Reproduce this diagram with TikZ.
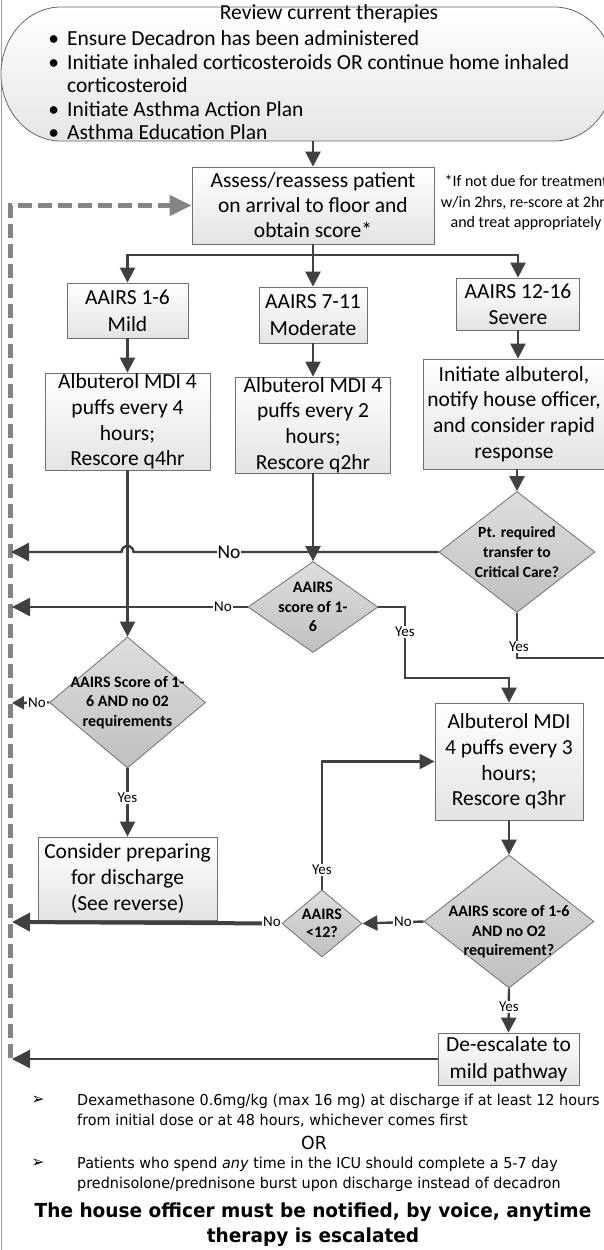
\documentclass[tikz,border=0pt]{standalone}
\usepackage{fontspec}
\setmainfont{Carlito}
\newfontfamily\tah[FakeStretch=0.96]{DejaVu Sans}
\usetikzlibrary{arrows.meta,shapes.geometric}
\definecolor{lineC}{HTML}{404040}
\definecolor{boxB}{HTML}{707070}
\definecolor{dashC}{HTML}{858585}
\begin{document}
\begin{tikzpicture}[x=1pt,y=-1pt,
  box/.style={draw=boxB, line width=0.8pt, top color=white, bottom color=black!11, align=center, inner sep=0pt, font=\fontsize{21.5}{25.7}\selectfont},
  dia/.style={diamond, draw=boxB, line width=0.8pt, top color=black!13, bottom color=black!25, inner sep=0pt},
  dtext/.style={font=\bfseries\fontsize{16}{19.5}\selectfont, align=center, inner sep=0pt},
  conn/.style={draw=lineC, line width=2.4pt},
  arr/.style={conn, -{Triangle[length=15pt,width=15pt]}},
  arrS/.style={conn, -{Triangle[length=12pt,width=13pt]}},
  arrL/.style={conn, -{Triangle[length=18pt,width=18pt]}},
  lab/.style={fill=white, inner sep=1pt, font=\fontsize{15}{16}\selectfont},
  btxt/.style={anchor=base west, inner sep=0pt, font=\tah\fontsize{15}{17}\selectfont},
]
\useasboundingbox (0,0) rectangle (603,1250);
\fill[white] (0,0) rectangle (603,1250);
\draw[black!40, line width=1pt] (1,0) -- (1,1250);

% top rounded shape
\path[draw=black!60, line width=0.8pt, top color=white, bottom color=black!10]
  (61,7) -- (554,7) arc[start angle=90, end angle=-90, x radius=60pt, y radius=67pt]
  -- (61,141) arc[start angle=270, end angle=90, x radius=60pt, y radius=67pt] -- cycle;
\coordinate (reviewS) at (313,141);
\node[inner sep=0pt, font=\fontsize{21.5}{22}\selectfont] (title) at (329,14) {Review current therapies};
\begin{scope}[every node/.style={anchor=base west, inner sep=0pt, font=\fontsize{21.5}{22}\selectfont}]
\node (b1) at (67,45) {\llap{\textbullet\hspace{8pt}}Ensure Decadron has been administered};
\node (b2) at (67,69) {\llap{\textbullet\hspace{8pt}}Initiate inhaled corticosteroids OR continue home inhaled};
\node (b3) at (67,92) {corticosteroid};
\node (b4) at (67,116) {\llap{\textbullet\hspace{8pt}}Initiate Asthma Action Plan};
\node (b5) at (67,139) {\llap{\textbullet\hspace{8pt}}Asthma Education Plan};
\end{scope}

% boxes
\node[box, minimum width=242pt, minimum height=77pt, font=\fontsize{21.5}{25}\selectfont] (assess) at (313,205.5) {Assess/reassess patient\\on arrival to floor and\\obtain score*};
\node[inner sep=0pt, align=center, font=\fontsize{16}{20.5}\selectfont] (note) at (526,203) {*If not due for treatment\\w/in 2hrs, re-score at 2hrs\\and treat appropriately};
\node[box, minimum width=121pt, minimum height=55pt, font=\fontsize{21.5}{27}\selectfont] (mild) at (127.5,310.5) {AAIRS 1-6\\Mild};
\node[box, minimum width=108pt, minimum height=56pt, font=\fontsize{21.5}{27}\selectfont] (moder) at (313,315) {AAIRS 7-11\\Moderate};
\node[box, minimum width=123pt, minimum height=52pt, font=\fontsize{21.5}{26}\selectfont] (sev) at (518,304) {AAIRS 12-16\\Severe};
\node[box, minimum width=165pt, minimum height=97pt] (alb4) at (127.5,421.5) {Albuterol MDI 4\\puffs every 4\\hours;\\Rescore q4hr};
\node[box, minimum width=155pt, minimum height=96pt] (alb2) at (313,425) {Albuterol MDI 4\\puffs every 2\\hours;\\Rescore q2hr};
\node[box, minimum width=182pt, minimum height=110pt] (sevinit) at (514,414) {Initiate albuterol,\\notify house officer,\\and consider rapid\\response};

\node[dia, minimum width=156pt, minimum height=121pt] (pt) at (517,552) {};
\node[dtext, font=\bfseries\fontsize{15.5}{20}\selectfont] (ptt) at (pt) {Pt. required\\transfer to\\Critical Care?};
\node[dia, minimum width=130pt, minimum height=91pt] (d16) at (313,607) {};
\node[dtext] (d16t) at (d16) {AAIRS\\score of 1-\\6};
\node[dia, minimum width=156pt, minimum height=131pt] (dmild) at (127.5,702.5) {};
\node[dtext] (dmildt) at (dmild) {AAIRS Score of 1-\\6 AND no 02\\requirements};
\node[box, minimum width=179pt, minimum height=83pt] (disch) at (127.5,878.5) {Consider preparing\\for discharge\\(See reverse)};
\node[box, minimum width=148pt, minimum height=117pt] (alb3) at (509,761.5) {Albuterol MDI\\4 puffs every 3\\hours;\\Rescore q3hr};
\node[dia, minimum width=80pt, minimum height=67pt] (d12) at (322,923.5) {};
\node[dtext, font=\bfseries\fontsize{16}{18}\selectfont] (d12t) at (d12) {AAIRS\\<12?};
\node[dia, minimum width=170pt, minimum height=133pt] (dfin) at (509,921.5) {};
\node[dtext] (dfint) at (509,932) {AAIRS score of 1-6\\AND no O2\\requirement?};
\node[box, minimum width=141pt, minimum height=52pt, font=\fontsize{21.5}{27}\selectfont] (deesc) at (508.5,1059) {De-escalate to\\mild pathway};

% coordinates
\coordinate (J) at (313,255);
\coordinate (L1) at (11,552);
\coordinate (L2) at (12,607);
\coordinate (L3) at (12,703);
\coordinate (L4) at (12,922);
\coordinate (L5) at (12,1059);
\coordinate (R1) at (612,658);
\coordinate (D0) at (10,1058);
\coordinate (D1) at (10,205.5);

% dashed return line
\draw[dashC, line width=5pt, dash pattern=on 14pt off 6pt, -{Triangle[length=22pt,width=20pt]}] (D0) -- (D1) -- (assess.west);

% connectors
\draw[arr] (reviewS) -- (assess.north);
\draw[conn] (assess.south) -- (J);
\draw[arr] (J) -| (mild.north);
\draw[arr] (J) -- (moder.north);
\draw[arr] (J) -| (sev.north);
\draw[arr] (mild.south) -- (alb4.north);
\draw[arr] (moder.south) -- (alb2.north);
\draw[arr] (sev.south) -- (sev.south |- sevinit.north);
\draw[arr] (pt.north |- sevinit.south) -- (pt.north);
\draw[arr] (alb4.south) -- (dmild.north);
\draw[arrL] (pt.west) -- (133.5,552) arc[start angle=0, end angle=180, radius=6pt] -- (L1);
\draw[arr] (alb2.south) -- (d16.north);
\draw[arrL] (d16.west) -- (L2);
\draw[arr] (d16.east) -- (405,607) -- (405,678) -| (alb3.north);
\draw[conn] (pt.south) -- (517,658) -- (R1);
\draw[arrS] (dmild.west) -- (L3);
\draw[arr] (dmild.south) -- (disch.north);
\draw[arr] (alb3.south) -- (dfin.north);
\draw[arr] (dfin.west) -- (d12.east);
\draw[arrL, line width=4pt] (d12.west) -- (L4);
\draw[arr] (d12.north) -- (d12.north |- alb3.west) -- (alb3.west);
\draw[arr] (dfin.south) -- (deesc.north);
\draw[arrL] (deesc.west) -- (L5);

% labels
\node[lab, font=\fontsize{19.5}{20}\selectfont] (no1) at (229,552) {No};
\node[lab] (no2) at (223,607) {No};
\node[lab] (yes1) at (405,632) {Yes};
\node[lab] (yes2) at (519,647) {Yes};
\node[lab] (no3) at (37,703) {No};
\node[lab] (yes3) at (127.5,798) {Yes};
\node[lab] (yes4) at (322,870) {Yes};
\node[lab] (no4) at (272,922) {No};
\node[lab] (no5) at (403,922) {No};
\node[lab] (yes5) at (509,1007) {Yes};

% bottom notes
\node[inner sep=0pt, font=\tah\fontsize{16}{16}\selectfont] (ar1) at (38,1100) {➢};
\node[inner sep=0pt, font=\tah\fontsize{16}{16}\selectfont] (ar2) at (38,1163) {➢};
\node[btxt] (t1) at (77,1105) {Dexamethasone 0.6mg/kg (max 16 mg) at discharge if at least 12 hours};
\node[btxt] (t2) at (77,1125) {from initial dose or at 48 hours, whichever comes first};
\node[inner sep=0pt, font=\tah\fontsize{18}{18}\selectfont] (or) at (314,1143) {OR};
\node[btxt] (t3) at (77,1168) {Patients who spend \textit{any} time in the ICU should complete a 5-7 day};
\node[btxt] (t4) at (77,1188) {prednisolone/prednisone burst upon discharge instead of decadron};
\node[inner sep=0pt, align=center, font=\tah\bfseries\fontsize{19.3}{25}\selectfont] (warn) at (313,1225) {The house officer must be notified, by voice, anytime\\therapy is escalated};
\end{tikzpicture}
\end{document}
